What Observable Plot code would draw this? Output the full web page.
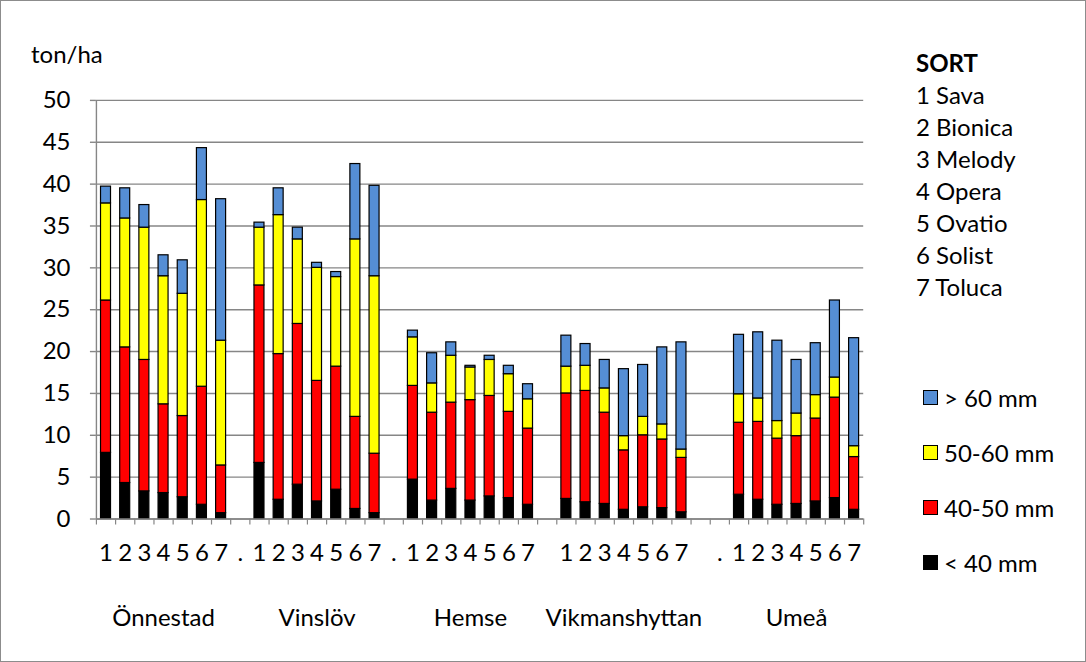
<!DOCTYPE html>
<html>
<head>
<meta charset="utf-8">
<script src="https://cdn.jsdelivr.net/npm/d3@7"></script>
<script src="https://cdn.jsdelivr.net/npm/@observablehq/plot@0.6"></script>
<style>
  html, body { margin: 0; padding: 0; background: #fff; }
  #wrap { position: relative; width: 1086px; height: 662px; box-sizing: border-box; border: 1px solid #8c8c8c; font-family: Lato, "Open Sans", sans-serif; color: #000; overflow: hidden; }
  #chart { position: absolute; left: -1px; top: -1px; }
  .lbl { position: absolute; font-size: 24px; line-height: 24px; white-space: nowrap; }
  .row32 { height: 32px; line-height: 32px; }
  .row55 { height: 55px; display: flex; align-items: center; }
  .sw { display: inline-block; width: 13px; height: 13px; border: 1px solid #000; margin-right: 6px; }
</style>
</head>
<body>
<div id="wrap">
  <div id="chart"></div>
  <div class="lbl" style="left:30px; top:41px;">ton/ha</div>
  <div id="sortLegend" class="lbl" style="left:915px; top:46px;"></div>
  <div id="sizeLegend" class="lbl" style="left:922px; top:369px;"></div>
</div>
<script>
// ---- data ----
const tickLabels = ["1","2","3","4","5","6","7",".",
                    "1","2","3","4","5","6","7",".",
                    "1","2","3","4","5","6","7","",
                    "1","2","3","4","5","6","7","",".",
                    "1","2","3","4","5","6","7"];
const locations = ["Önnestad", "Vinslöv", "Hemse", "Vikmanshyttan", "Umeå"];
const sorts = ["1 Sava", "2 Bionica", "3 Melody", "4 Opera", "5 Ovatio", "6 Solist", "7 Toluca"];
const seriesNames = ["< 40 mm", "40-50 mm", "50-60 mm", "> 60 mm"];
const seriesColors = ["#000000", "#ff0000", "#ffff00", "#558ed5"];
const yTicks = [0, 5, 10, 15, 20, 25, 30, 35, 40, 45, 50];

const under40 = [7.9,4.3,3.3,3.1,2.6,1.7,0.7,  6.7,2.3,4.1,2.1,3.5,1.2,0.7,  4.7,2.2,3.6,2.2,2.7,2.5,1.7,  2.4,2.0,1.8,1.1,1.4,1.3,0.8,  2.9,2.3,1.7,1.8,2.1,2.5,1.1];
const mm40_50 = [18.2,16.2,15.7,10.6,9.7,14.1,5.7,  21.2,17.4,19.2,14.4,14.7,11.0,7.1,  11.2,10.5,10.3,12.0,12.0,10.3,9.1,  12.6,13.3,10.9,7.1,8.6,8.2,6.5,  8.6,9.3,7.9,8.1,9.9,12.0,6.3];
const mm50_60 = [11.6,15.4,15.8,15.3,14.6,22.3,14.9,  6.9,16.6,10.1,13.5,10.7,21.2,21.2,  5.8,3.5,5.6,3.9,4.3,4.5,3.5,  3.2,3.0,2.9,1.7,2.2,1.8,1.0,  3.4,2.8,2.1,2.7,2.8,2.4,1.3];
const over60 = [2.0,3.6,2.7,2.5,4.0,6.2,16.9,  0.6,3.2,1.4,0.6,0.6,9.0,10.8,  0.8,3.6,1.6,0.2,0.5,1.0,1.8,  3.7,2.6,3.4,8.0,6.2,9.2,12.8,  7.1,7.9,9.6,6.4,6.2,9.2,12.9];

// ---- build table ----
const seriesValues = [under40, mm40_50, mm50_60, over60];
const rows = [];
const groupStarts = [];
let k = 0;
tickLabels.forEach((lab, i) => {
  if (lab === "1") groupStarts.push(i);
  if (/^[1-7]$/.test(lab)) {
    seriesNames.forEach((s, j) => rows.push({x1: i, x2: i + 1, series: s, value: seriesValues[j][k]}));
    k++;
  }
});
const locRows = locations.map((name, g) => ({name, x: groupStarts[g] + 3.5}));
const nSlots = tickLabels.length;
const gray = "#868686";
const fs = 24;

const chart = Plot.plot({
  width: 1086, height: 662,
  marginLeft: 96, marginRight: 222, marginTop: 100, marginBottom: 143,
  style: {fontFamily: "Lato, 'Open Sans', sans-serif", fontSize: fs + "px", color: "#000", background: "transparent"},
  x: {type: "linear", domain: [0, nSlots], axis: null},
  y: {domain: [0, 50], axis: null},
  color: {domain: seriesNames, range: seriesColors},
  marks: [
    Plot.gridY(yTicks, {stroke: gray, strokeOpacity: 1, strokeWidth: 1.4}),
    Plot.axisY({ticks: yTicks, tickSize: 6, tickPadding: 20, stroke: gray, strokeWidth: 1.4, fontSize: fs, label: null}),
    Plot.ruleX([0], {stroke: gray, strokeWidth: 1.4}),
    Plot.axisX({ticks: d3.range(0, nSlots + 1), tickSize: 6, tickFormat: () => "", stroke: gray, strokeWidth: 1.2, label: null}),
    Plot.axisX({ticks: tickLabels.map((_, i) => i + 0.5), tickSize: 0, tickPadding: 25, tickFormat: d => tickLabels[Math.floor(d)], fontSize: fs, label: null}),
    Plot.rectY(rows, {x1: "x1", x2: "x2", y: "value", fill: "series", stroke: "#000", strokeWidth: 1.2, insetLeft: 4.6, insetRight: 4.6}),
    Plot.ruleY([0], {stroke: gray, strokeWidth: 1.4}),
    Plot.text(locRows, {x: "x", text: "name", frameAnchor: "bottom", dy: 99, fontSize: fs, fill: "#000", lineAnchor: "middle"})
  ]
});
document.getElementById("chart").appendChild(chart);

// ---- legends ----
const sortEl = document.getElementById("sortLegend");
sortEl.innerHTML = `<div class="row32" style="font-weight:bold;">SORT</div>` +
  sorts.map(s => `<div class="row32">${s}</div>`).join("");

const sizeEl = document.getElementById("sizeLegend");
const legendOrder = [3, 2, 1, 0];
sizeEl.innerHTML = legendOrder.map(j =>
  `<div class="row55"><span class="sw" style="background:${seriesColors[j]}"></span>${seriesNames[j]}</div>`).join("");
</script>
</body>
</html>
